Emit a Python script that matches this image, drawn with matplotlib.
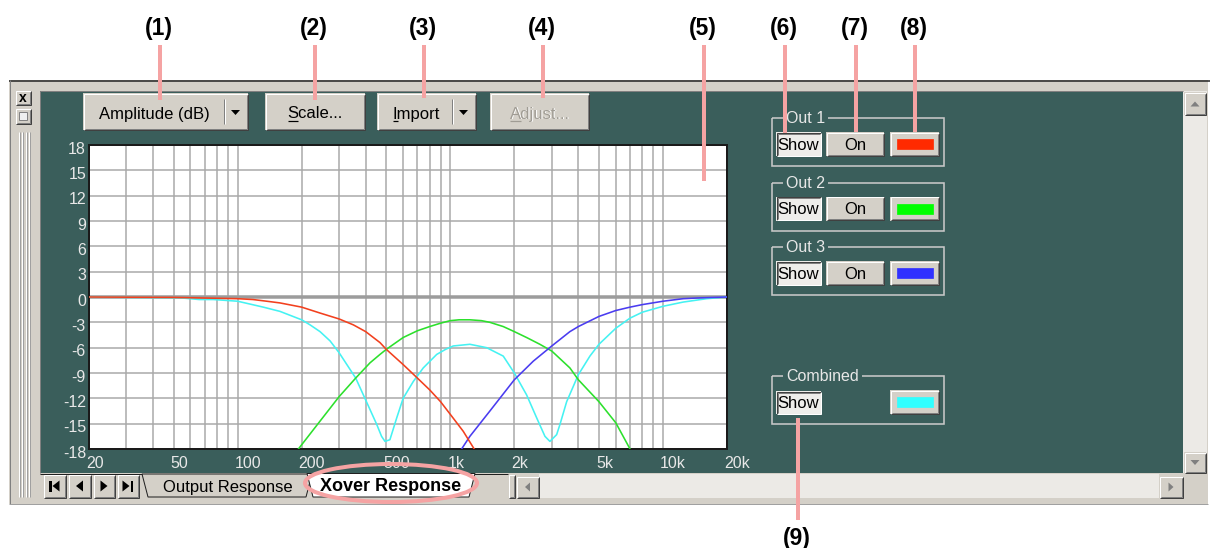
import matplotlib
matplotlib.use('Agg')
import matplotlib.pyplot as plt
from matplotlib.patches import Rectangle, Polygon, Ellipse
import matplotlib.transforms as mtransforms
from matplotlib.textpath import TextToPath
from matplotlib.font_manager import FontProperties

W, H, DPI = 1210, 548, 100

# ---------------- data ----------------
red_freq = [20, 50, 100, 118, 137, 158, 200, 244, 300, 350, 400, 467, 500, 600, 700, 800, 900, 1000, 1150, 1295]
red_db = [0, -0.05, -0.2, -0.3, -0.5, -0.7, -1.2, -1.9, -2.6, -3.3, -4.1, -5.4, -6.2, -8.0, -9.6, -11.0, -12.4, -13.9, -15.9, -18]

green_freq = [193, 244, 300, 359, 419, 467, 500, 600, 700, 800, 900, 1000, 1100, 1236, 1400, 1535, 1774, 2000, 2285, 2637, 3000, 3650, 4000, 5000, 6000, 7000]
green_db = [-18, -14.7, -11.8, -9.6, -7.8, -6.8, -6.2, -4.8, -4.0, -3.5, -3.1, -2.8, -2.7, -2.7, -2.8, -3.0, -3.5, -4.1, -4.8, -5.6, -6.4, -8.4, -9.8, -12.4, -14.9, -18]

blue_freq = [1130, 1236, 1535, 2000, 2455, 3000, 3650, 4000, 5000, 6000, 7000, 8000, 10000, 12450, 15000, 20000]
blue_db = [-18, -16.5, -13.5, -9.8, -7.6, -5.8, -4.1, -3.5, -2.3, -1.6, -1.2, -0.9, -0.5, -0.2, -0.1, 0]

cyan_freq = [20, 54, 66, 77, 100, 132, 158, 200, 219, 244, 272, 300, 359, 400, 451, 475, 493, 520, 560, 600, 670, 746,
             863, 950, 1032, 1236, 1482, 1774, 2000, 2285, 2546, 2786, 2940, 3162, 3277, 3524, 4000, 4533, 5000,
             6000, 7000, 8000, 10000, 12450, 16040, 20000]
cyan_db = [0, -0.1, -0.3, -0.3, -0.5, -1.2, -1.7, -2.7, -3.3, -4.1, -5.2, -6.6, -9.6, -12.2, -15.1, -16.5, -17.1, -16.9, -14.3, -12.0, -10.0, -8.4,
           -6.8, -6.2, -5.8, -5.6, -6.0, -7.0, -9.0, -11.6, -14.3, -16.5, -17.1, -16.3, -15.1, -12.4, -9.2, -7.0, -5.6,
           -3.7, -2.5, -1.8, -1.1, -0.6, -0.2, 0]

x_tick_vals = [20, 50, 100, 200, 500, 1000, 2000, 5000, 10000, 20000]
x_tick_labels = ['20', '50', '100', '200', '500', '1k', '2k', '5k', '10k', '20k']
x_grid_vals = [20, 30, 40, 50, 60, 70, 80, 90, 100, 200, 300, 400, 500, 600, 700, 800, 900,
               1000, 2000, 3000, 4000, 5000, 6000, 7000, 8000, 9000, 10000, 20000]
y_tick_vals = [18, 15, 12, 9, 6, 3, 0, -3, -6, -9, -12, -15, -18]

group_names = ['Out 1', 'Out 2', 'Out 3']
group_colors = ['#FF2A00', '#00FF00', '#3030FF']
combined_color = '#30FFFF'
line_colors = ['#F2401E', '#2CE02C', '#4A3CF0', '#45F2F2']

annot_labels = ['(1)', '(2)', '(3)', '(4)', '(5)', '(6)', '(7)', '(8)']
# ----------------------------------------------------------------

GRAY = '#D4D0C8'
DARK = '#808080'
TEAL = '#3A5E5B'
TRACK = '#ECEAE6'
PINK = '#F5A3A3'
FONT = 'Liberation Sans'
PX = 72.0 / DPI  # points per pixel

fig = plt.figure(figsize=(W / DPI, H / DPI), dpi=DPI)
fig.patch.set_facecolor('white')

bg = fig.add_axes([0, 0, 1, 1], zorder=0)
bg.set_xlim(0, W); bg.set_ylim(H, 0); bg.axis('off')
fg = fig.add_axes([0, 0, 1, 1], zorder=3)
fg.set_xlim(0, W); fg.set_ylim(H, 0); fg.axis('off')

ttp = TextToPath()


def twidth(s, size, weight='normal'):
    fp = FontProperties(family=FONT, size=size, weight=weight)
    w, h, d = ttp.get_text_width_height_descent(s, fp, ismath=False)
    return w / PX


def rect(ax, x0, y0, x1, y1, fc, ec='none', lw=0, z=1):
    ax.add_patch(Rectangle((x0, y0), x1 - x0, y1 - y0, facecolor=fc, edgecolor=ec,
                           linewidth=lw, zorder=z))


def pl(ax, xs, ys, c, lw=1, z=2):
    ax.plot(xs, ys, color=c, lw=lw * PX, zorder=z, solid_capstyle='butt', solid_joinstyle='miter')


def raised(ax, x0, y0, x1, y1, fc=GRAY, z=2):
    rect(ax, x0, y0, x1, y1, fc, z=z)
    pl(ax, [x0 + .5, x0 + .5, x1 - .5], [y1 - .5, y0 + .5, y0 + .5], 'white', 1, z + .1)
    pl(ax, [x0 + .5, x1 - .5, x1 - .5], [y1 - .5, y1 - .5, y0 + .5], '#404040', 1, z + .1)
    pl(ax, [x0 + 1.5, x1 - 1.5, x1 - 1.5], [y1 - 1.5, y1 - 1.5, y0 + 1.5], DARK, 1, z + .1)


def sunken(ax, x0, y0, x1, y1, fc='#EEEDEA', z=2):
    rect(ax, x0, y0, x1, y1, fc, z=z)
    pl(ax, [x0 + .5, x0 + .5, x1 - .5], [y1 - .5, y0 + .5, y0 + .5], '#404040', 1, z + .1)
    pl(ax, [x0 + 1.5, x0 + 1.5, x1 - 1.5], [y1 - 1.5, y0 + 1.5, y0 + 1.5], DARK, 1, z + .1)
    pl(ax, [x0 + .5, x1 - .5, x1 - .5], [y1 - .5, y1 - .5, y0 + .5], 'white', 1, z + .1)


def txt(ax, x, y, s, size=12, color='black', ha='center', va='baseline', weight='normal', z=5, **kw):
    ax.text(x, y, s, fontsize=size, color=color, ha=ha, va=va, fontweight=weight,
            family=FONT, zorder=z, **kw)


def tri(ax, cx, cy, w, h, direction, color='black', z=6):
    if direction == 'down':
        pts = [(cx - w / 2, cy - h / 2), (cx + w / 2, cy - h / 2), (cx, cy + h / 2)]
    elif direction == 'up':
        pts = [(cx - w / 2, cy + h / 2), (cx + w / 2, cy + h / 2), (cx, cy - h / 2)]
    elif direction == 'left':
        pts = [(cx + w / 2, cy - h / 2), (cx + w / 2, cy + h / 2), (cx - w / 2, cy)]
    else:
        pts = [(cx - w / 2, cy - h / 2), (cx - w / 2, cy + h / 2), (cx + w / 2, cy)]
    ax.add_patch(Polygon(pts, closed=True, facecolor=color, edgecolor='none', zorder=z))


# ---------------- window frame ----------------
rect(bg, 9, 80, 1208, 504, GRAY)
pl(bg, [9, 1210], [80.5, 80.5], '#202020', 1.5)
pl(bg, [9.5, 9.5], [80, 504], '#808080', 1)
pl(bg, [9, 1208], [503.5, 503.5], '#A0A0A0', 1)
# left strip: close/restore buttons and grip
raised(bg, 15, 90, 31, 105)
txt(bg, 23, 101.5, 'x', size=10, weight='bold', z=6)
raised(bg, 15, 108, 31, 124)
rect(bg, 19, 112, 27, 120, '#F0F0F0', ec=DARK, lw=0.7, z=6)
for gx in (18.5, 25.5):
    pl(bg, [gx, gx], [132, 497], '#FFFFFF', 1)
    pl(bg, [gx + 1, gx + 1], [132, 497], '#A0A0A0', 1)
    pl(bg, [gx + 3, gx + 3], [132, 497], '#FFFFFF', 1)
    pl(bg, [gx + 4, gx + 4], [132, 497], '#A0A0A0', 1)

# teal client area
rect(bg, 40, 91, 1183, 473, TEAL, z=1.5)
pl(bg, [40, 40, 1183], [473, 90.5, 90.5], DARK, 1, 1.6)

# right vertical scrollbar
rect(bg, 1183, 91, 1207, 473, TRACK, z=1.5)
raised(bg, 1184, 92, 1206, 115)
tri(bg, 1195, 104, 9, 5, 'up', color=DARK)
raised(bg, 1184, 452, 1206, 473)
tri(bg, 1195, 462.5, 9, 5, 'down', color=DARK)

# ---------------- toolbar buttons ----------------
raised(bg, 83, 93, 248, 130)
txt(bg, 154, 118.5, 'Amplitude (dB)')
pl(bg, [224, 224], [99, 124], DARK, 1, 3)
pl(bg, [225, 225], [99, 124], 'white', 1, 3)
tri(bg, 235.5, 112.5, 9, 5, 'down')

raised(bg, 265, 93, 365, 130)
s = 'Scale...'
w = twidth(s, 12); x0 = 315 - w / 2
txt(bg, 315, 118.5, s)
pl(bg, [x0 + 0.5, x0 + twidth('S', 12) - 0.5], [121, 121], 'black', 1.2, 6)

raised(bg, 377, 93, 476, 130)
s = 'Import'
w = twidth(s, 12); x0 = 416 - w / 2
txt(bg, 416, 118.5, s)
pl(bg, [x0 + 0.5, x0 + twidth('I', 12) + 1], [121, 121], 'black', 1.2, 6)
pl(bg, [452, 452], [99, 124], DARK, 1, 3)
pl(bg, [453, 453], [99, 124], 'white', 1, 3)
tri(bg, 463.5, 112.5, 9, 5, 'down')

raised(bg, 490, 93, 589, 130)
s = 'Adjust...'
w = twidth(s, 12); x0 = 540 - w / 2
txt(bg, 541, 119.5, s, color='white', z=5)
txt(bg, 540, 118.5, s, color='#A09C94', z=5.5)
pl(bg, [x0 + 0.5, x0 + twidth('A', 12) - 0.5], [121, 121], '#A09C94', 1.2, 6)

# ---------------- right panel groups ----------------
def group_box(top, bottom, title):
    pl(bg, [772, 944, 944, 772, 772], [top, top, bottom, bottom, top], '#C8C8C8', 1.6, 3)
    tw = twidth(title, 11.5)
    rect(bg, 783, top - 4, 786 + tw + 3, top + 4, TEAL, z=3.5)
    txt(bg, 786, top + 5, title, size=11.5, color='#E8E8E8', ha='left', z=4)


for i, (name, col) in enumerate(zip(group_names, group_colors)):
    dy = i * 64.5
    top = 118 + dy
    group_box(top, top + 48, name)
    sunken(bg, 776, 132 + dy, 821, 156 + dy)
    txt(bg, 798.5, 150 + dy, 'Show')
    raised(bg, 826, 132 + dy, 884, 156 + dy)
    txt(bg, 855, 150 + dy, 'On')
    raised(bg, 890, 132 + dy, 939, 156 + dy)
    rect(bg, 897, 139 + dy, 933, 149 + dy, col, ec=col, lw=0.5, z=4)

group_box(376, 424, 'Combined')
sunken(bg, 776, 391, 821, 414)
txt(bg, 798.5, 408.5, 'Show')
raised(bg, 890, 390, 939, 414)
rect(bg, 897, 397, 933, 407, combined_color, ec=combined_color, lw=0.5, z=4)

# ---------------- bottom tab row ----------------
pl(bg, [40, 508], [473.5, 473.5], '#202020', 1, 3)
nav = [(43, 66), (68, 91), (93, 115), (117, 139)]
for (a, b) in nav:
    raised(bg, a, 474, b, 498)
tri(bg, 56, 486, 7, 11, 'left'); rect(bg, 49, 480.5, 51.5, 491.5, 'black', z=6)
tri(bg, 79.5, 486, 7, 11, 'left')
tri(bg, 104, 486, 7, 11, 'right')
tri(bg, 126, 486, 7, 11, 'right'); rect(bg, 130.5, 480.5, 133, 491.5, 'black', z=6)

bg.add_patch(Polygon([(142, 474), (312, 474), (306, 497), (148, 497)], closed=True,
                     facecolor=GRAY, edgecolor='#202020', linewidth=1 * PX, zorder=3))
txt(bg, 228, 492, 'Output Response', size=12, z=4)
bg.add_patch(Polygon([(307, 473.5), (475, 473.5), (469, 497), (313, 497)], closed=True,
                     facecolor='white', edgecolor='#202020', linewidth=1 * PX, zorder=3.6))
txt(bg, 391, 491, 'Xover Response', size=13, weight='bold', z=4)

# horizontal scrollbar
raised(bg, 508, 474, 515, 498)
raised(bg, 516, 476, 539, 498)
tri(bg, 527.5, 487, 5, 9, 'left', color=DARK)
rect(bg, 539, 474, 1159, 498, TRACK, z=2)
raised(bg, 1159, 476, 1183, 498)
tri(bg, 1171, 487, 5, 9, 'right', color=DARK)

# ---------------- plot ----------------
ax = fig.add_axes([89 / W, 1 - 449 / H, 638 / W, 304 / H], zorder=1)
ax.set_facecolor('white')
ax.set_xscale('log')
ax.set_xlim(20, 20000)
ax.set_ylim(-18, 18)
for xv in x_grid_vals:
    ax.axvline(xv, color='#A8A8A8', lw=1.5 * PX, zorder=1)
for yv in y_tick_vals:
    if yv != 0:
        ax.axhline(yv, color='#A8A8A8', lw=1.5 * PX, zorder=1)
ax.axhline(0, color='#9C9C9C', lw=3.5 * PX, zorder=1.2)

ax.plot(cyan_freq, cyan_db, color=line_colors[3], lw=1.6 * PX, zorder=3)
ax.plot(green_freq, green_db, color=line_colors[1], lw=1.6 * PX, zorder=3.1)
ax.plot(blue_freq, blue_db, color=line_colors[2], lw=1.6 * PX, zorder=3.2)
ax.plot(red_freq, red_db, color=line_colors[0], lw=1.6 * PX, zorder=3.3)

ax.set_xticks([]); ax.set_yticks([])
ax.minorticks_off()
for sp in ax.spines.values():
    sp.set_color('#1A1A1A'); sp.set_linewidth(2 * PX)

xt = mtransforms.blended_transform_factory(ax.transData, ax.transAxes)
for xv, lab in zip(x_tick_vals, x_tick_labels):
    tr = xt + mtransforms.ScaledTranslation(-3 / DPI, -19 / DPI, fig.dpi_scale_trans)
    ax.text(xv, 0, lab, transform=tr, ha='left', va='baseline', fontsize=11.5,
            color='#E8E8E8', family=FONT, clip_on=False)
yt = mtransforms.blended_transform_factory(ax.transAxes, ax.transData)
for yv in y_tick_vals:
    tr = yt + mtransforms.ScaledTranslation(-3 / DPI, -8.5 / DPI, fig.dpi_scale_trans)
    ax.text(0, yv, str(yv), transform=tr, ha='right', va='baseline', fontsize=11.5,
            color='#E8E8E8', family=FONT, clip_on=False)

# ---------------- annotations ----------------
annot_x = [160, 315, 424, 543, 704, 785, 856, 915]
annot_end = [100, 100, 98, 98, 181, 133, 132, 132]
for lab, xa, ye in zip(annot_labels, annot_x, annot_end):
    pl(fg, [xa, xa], [45, ye], PINK, 4, 3)
    txt(fg, xa - 1, 35, lab, size=16.5, weight='bold', z=4)
pl(fg, [798, 798], [418, 520], PINK, 4, 3)
txt(fg, 797, 545, '(9)', size=16.5, weight='bold', z=4)

fg.add_patch(Ellipse((391, 483), 172, 38, facecolor='none', edgecolor=PINK,
                     linewidth=4 * PX, zorder=5))

fig.savefig('out.png', dpi=DPI)
